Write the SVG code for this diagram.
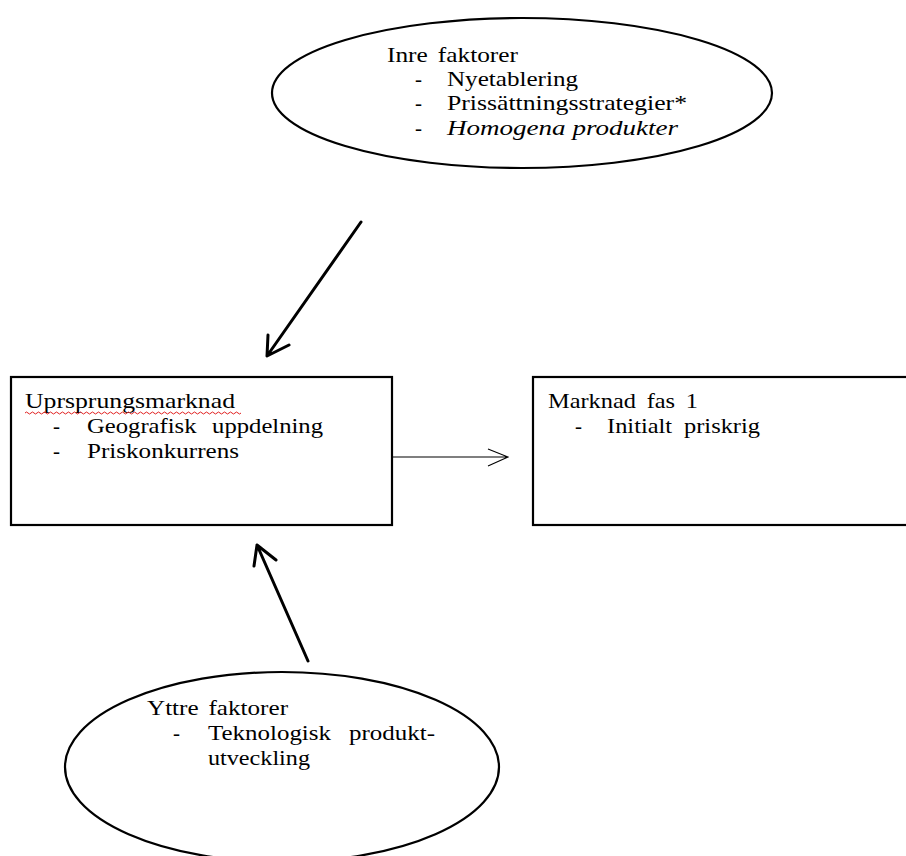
<svg xmlns="http://www.w3.org/2000/svg" width="906" height="856" viewBox="0 0 906 856">
  <style>
    .shape { fill: #ffffff; stroke: #000000; stroke-width: 2.2; }
    .t { font-family: 'Liberation Serif', 'DejaVu Serif', serif; font-size: 21px; fill: #000000; }
    .it { font-style: italic; }
    .heavy { fill: none; stroke: #000000; stroke-width: 3; stroke-linecap: round; stroke-linejoin: round; }
    .thin { fill: none; stroke: #000000; stroke-width: 1.1; }
    .squiggle { fill: none; stroke: #e02020; stroke-width: 1; }
  </style>
  <rect width="906" height="856" fill="#ffffff"/>

  <g id="connectors">
    <!-- Inre faktorer -> Uprsprungsmarknad -->
    <path class="heavy" d="M361,222 L267,356 M268,335 L267,356 L289,345"/>
    <!-- Yttre faktorer -> Uprsprungsmarknad -->
    <path class="heavy" d="M308,661 L257,545 M254,566 L257,545 L276,560"/>
    <!-- Uprsprungsmarknad -> Marknad fas 1 -->
    <path class="thin" d="M387,457 L508,457 M488,449 L508,457 L488,466"/>
  </g>

  <g id="inre-faktorer">
    <ellipse class="shape" cx="522" cy="93" rx="250" ry="75"/>
    <text class="t" x="387" y="62" word-spacing="3" textLength="131" lengthAdjust="spacingAndGlyphs">Inre faktorer</text>
    <text class="t" x="415" y="86">-</text>
    <text class="t" x="447" y="86" textLength="131" lengthAdjust="spacingAndGlyphs">Nyetablering</text>
    <text class="t" x="415" y="110">-</text>
    <text class="t" x="447" y="110" textLength="240" lengthAdjust="spacingAndGlyphs">Prissättningsstrategier*</text>
    <text class="t" x="415" y="135">-</text>
    <text class="t it" x="447" y="135" textLength="231" lengthAdjust="spacingAndGlyphs">Homogena produkter</text>
  </g>

  <g id="uprsprungsmarknad">
    <rect class="shape" x="11" y="377" width="381" height="148"/>
    <text class="t" x="25" y="408" textLength="210" lengthAdjust="spacingAndGlyphs">Uprsprungsmarknad</text>
    <path class="squiggle" d="M25,413 q1.5,-2 3,0 t3,0 t3,0 t3,0 t3,0 t3,0 t3,0 t3,0 t3,0 t3,0 t3,0 t3,0 t3,0 t3,0 t3,0 t3,0 t3,0 t3,0 t3,0 t3,0 t3,0 t3,0 t3,0 t3,0 t3,0 t3,0 t3,0 t3,0 t3,0 t3,0 t3,0 t3,0 t3,0 t3,0 t3,0 t3,0 t3,0 t3,0 t3,0 t3,0 t3,0 t3,0 t3,0 t3,0 t3,0 t3,0 t3,0 t3,0 t3,0 t3,0 t3,0 t3,0 t3,0 t3,0 t3,0 t3,0 t3,0 t3,0 t3,0 t3,0 t3,0 t3,0 t3,0 t3,0 t3,0 t3,0 t3,0 t3,0 t3,0 t3,0 t3,0 t3,0"/>
    <text class="t" x="53" y="433">-</text>
    <text class="t" x="87" y="433" word-spacing="8" textLength="236" lengthAdjust="spacingAndGlyphs">Geografisk uppdelning</text>
    <text class="t" x="53" y="458">-</text>
    <text class="t" x="87" y="458" textLength="152" lengthAdjust="spacingAndGlyphs">Priskonkurrens</text>
  </g>

  <g id="marknad-fas-1">
    <rect class="shape" x="533" y="377" width="380" height="148"/>
    <text class="t" x="548" y="408" word-spacing="4" textLength="150" lengthAdjust="spacingAndGlyphs">Marknad fas 1</text>
    <text class="t" x="575" y="433">-</text>
    <text class="t" x="607" y="433" word-spacing="5" textLength="153" lengthAdjust="spacingAndGlyphs">Initialt priskrig</text>
  </g>

  <g id="yttre-faktorer">
    <ellipse class="shape" cx="282" cy="767" rx="217" ry="95"/>
    <text class="t" x="147" y="715" word-spacing="3" textLength="141" lengthAdjust="spacingAndGlyphs">Yttre faktorer</text>
    <text class="t" x="173" y="740">-</text>
    <text class="t" x="208" y="740" word-spacing="10" textLength="227" lengthAdjust="spacingAndGlyphs">Teknologisk produkt-</text>
    <text class="t" x="208" y="765" textLength="102" lengthAdjust="spacingAndGlyphs">utveckling</text>
  </g>
</svg>
